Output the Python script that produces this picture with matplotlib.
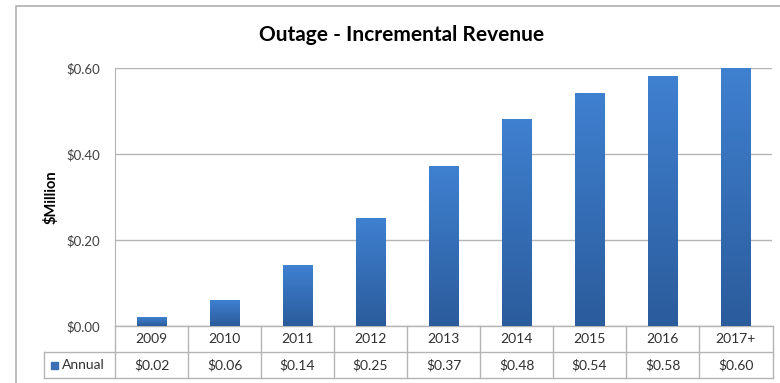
import matplotlib

matplotlib.use("Agg")

import matplotlib.pyplot as plt
import numpy as np
from matplotlib.colors import LinearSegmentedColormap
from matplotlib.patches import Rectangle

plt.rcParams["font.family"] = ["Lato", "DejaVu Sans"]

years = ["2009", "2010", "2011", "2012", "2013", "2014", "2015", "2016", "2017+"]
annual = [0.02, 0.06, 0.14, 0.25, 0.37, 0.48, 0.54, 0.58, 0.60]
value_labels = ["$0.02", "$0.06", "$0.14", "$0.25", "$0.37", "$0.48", "$0.54", "$0.58", "$0.60"]
y_ticks = [0.0, 0.2, 0.4, 0.6]
y_tick_labels = ["$0.00", "$0.20", "$0.40", "$0.60"]
series_name = "Annual"

W, H = 780, 383
fig = plt.figure(figsize=(W / 100, H / 100), dpi=100)
ax = fig.add_axes([115 / W, 1 - 326 / H, 657 / W, 258 / H])

# outer chart frame
fig.add_artist(Rectangle((16 / W, -0.1), 1.2, 1 - 6 / H + 0.1, transform=fig.transFigure,
                         fill=False, edgecolor="#b0b0b0", lw=1.2))

grid_col = "#b4b4b4"
cmap = LinearSegmentedColormap.from_list("bar", ["#2b5c9c", "#3f80d0"])
grad = np.linspace(0, 1, 100).reshape(-1, 1)
bw = 0.4
x = np.arange(len(years))
for xi, v in zip(x, annual):
    ax.imshow(grad, extent=[xi - bw / 2, xi + bw / 2, 0, v], origin="lower",
              aspect="auto", cmap=cmap, zorder=3)

ax.set_xlim(-0.5, len(years) - 0.5)
ax.set_ylim(0, 0.6)
ax.set_yticks(y_ticks)
ax.set_yticklabels(y_tick_labels, fontsize=9.5, color="#404040")
ax.tick_params(axis="y", length=0, pad=11)
ax.set_xticks([])
ax.yaxis.grid(True, color=grid_col, lw=1)
ax.set_axisbelow(True)
for s in ["top", "right", "bottom"]:
    ax.spines[s].set_visible(False)
ax.spines["left"].set_color(grid_col)
ax.set_ylabel("$Million", fontsize=10.5, fontweight="bold", labelpad=5)
fig.text(0.515, 1 - 35 / H, "Outage - Incremental Revenue", ha="center", va="center",
         fontsize=15, fontweight="bold")

# data table under the axis
rh = 26 / 258
left = (44 - 115) / 657
right = (773 - 115) / 657
tab_col = "#b4b4b4"
kw = dict(transform=ax.transAxes, clip_on=False, color=tab_col, lw=1)
ax.plot([0, right], [0, 0], **kw)
ax.plot([left, right], [-rh, -rh], **kw)
ax.plot([left, right], [-2 * rh, -2 * rh], **kw)
ax.plot([left, left], [-rh, -2 * rh], **kw)
ax.plot([0, 0], [0, -2 * rh], **kw)
ax.plot([right, right], [0, -2 * rh], **kw)
bt = ax.get_xaxis_transform()
for xi in x[1:]:
    ax.plot([xi - 0.5, xi - 0.5], [0, -2 * rh], transform=bt, clip_on=False, color=tab_col, lw=1)
for xi, yr, lab in zip(x, years, value_labels):
    ax.text(xi, -0.5 * rh, yr, transform=bt, ha="center", va="center", fontsize=10, color="#303030")
    ax.text(xi, -1.5 * rh, lab, transform=bt, ha="center", va="center", fontsize=10, color="#303030")
ax.add_patch(Rectangle((left + 7 / 657, -1.5 * rh - 3.5 / 258), 7 / 657, 7 / 258,
                       transform=ax.transAxes, clip_on=False, color="#3a6fb5"))
ax.text(left + 18 / 657, -1.5 * rh, series_name, transform=ax.transAxes, ha="left",
        va="center", fontsize=10, color="#303030")

fig.savefig("out.png", dpi=100)
